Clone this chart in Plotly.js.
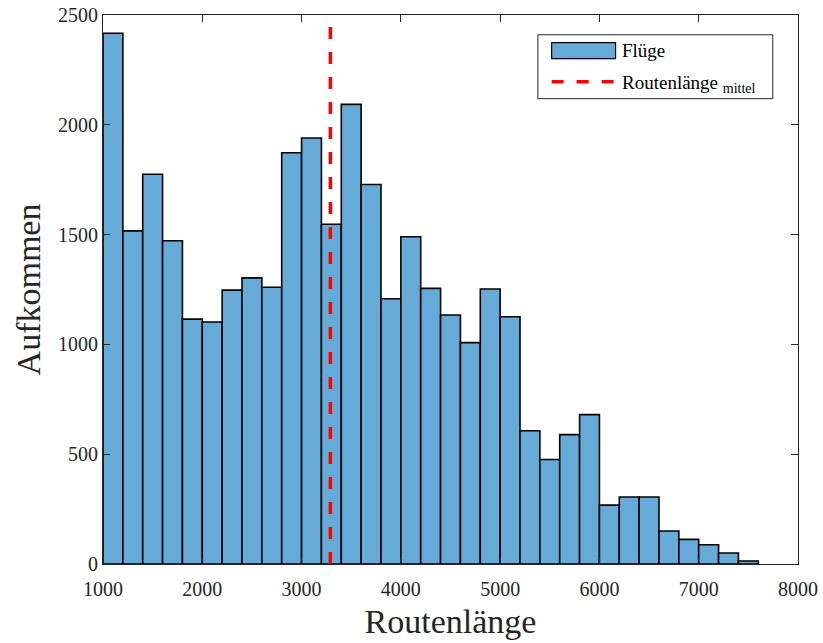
<!DOCTYPE html>
<html>
<head>
<meta charset="utf-8">
<script src="https://cdn.plot.ly/plotly-3.0.1.min.js"></script>
<style>html,body{margin:0;padding:0;background:#fff;}#chart{width:823px;height:643px;}</style>
</head>
<body>
<div id="chart"></div>
<script>
// Bin left edges (Routenlänge) and counts (Aufkommen)
const binLeft = [1000,1200,1400,1600,1800,2000,2200,2400,2600,2800,3000,3200,3400,3600,3800,4000,4200,4400,4600,4800,5000,5200,5400,5600,5800,6000,6200,6400,6600,6800,7000,7200,7400];
const counts  = [2417,1517,1775,1472,1115,1102,1247,1303,1260,1873,1940,1547,2093,1728,1208,1490,1255,1134,1008,1252,1126,607,476,589,680,268,305,305,150,112,88,50,14];
const binWidth = 200;
const meanRoute = 3290;
const meanLineY = [0, 2500];
const xTicks = [1000,2000,3000,4000,5000,6000,7000,8000];
const yTicks = [0,500,1000,1500,2000,2500];
const seriesNames = ['Flüge', 'Routenlänge<sub>mittel</sub>'];

const font = 'Liberation Serif, Times New Roman, serif';
const ink = '#262626';

const traces = [
  {
    type: 'bar',
    name: seriesNames[0],
    x: binLeft,
    y: counts,
    width: binLeft.map(() => binWidth),
    offset: 0,
    marker: {color: 'rgb(102,170,215)', line: {color: '#000', width: 1.6}},
    showlegend: false,
    hoverinfo: 'x+y'
  },
  {
    type: 'scatter',
    mode: 'lines',
    name: seriesNames[1],
    x: [meanRoute, meanRoute],
    y: meanLineY,
    line: {color: '#ff0000', width: 3.5, dash: '12px,13px'},
    showlegend: false
  }
];

// Manual legend (paper coords)
const lgX0 = 0.6257, lgX1 = 0.9637, lgY0 = 0.8476, lgY1 = 0.964;
const shapes = [
  {type:'rect', xref:'paper', yref:'paper', x0:lgX0, x1:lgX1, y0:lgY0, y1:lgY1,
   line:{color:ink, width:1}, fillcolor:'#fff', layer:'above'},
  {type:'rect', xref:'paper', yref:'paper', x0:0.6455, x1:0.7375, y0:0.9205, y1:0.9495,
   line:{color:'#000', width:1.2}, fillcolor:'rgb(102,170,215)', layer:'above'},
  {type:'line', xref:'paper', yref:'paper', x0:0.6455, x1:0.7375, y0:0.8785, y1:0.8785,
   line:{color:'#ff0000', width:3.5, dash:'12px,13px'}, layer:'above'}
];
const annotations = [
  {xref:'paper', yref:'paper', x:0.7435, y:0.935, xanchor:'left', yanchor:'middle', showarrow:false,
   text:seriesNames[0], font:{family:font, size:19, color:'#000'}},
  {xref:'paper', yref:'paper', x:0.7435, y:0.874, xanchor:'left', yanchor:'middle', showarrow:false,
   text:'Routenlänge <sub><span style="font-size:14px">mittel</span></sub>', font:{family:font, size:19, color:'#000'}}
];

const layout = {
  width: 823, height: 643, autosize: false,
  margin: {l: 103, r: 25, t: 15, b: 79, pad: 0},
  paper_bgcolor: '#fff', plot_bgcolor: '#fff',
  font: {family: font, color: ink},
  bargap: 0,
  showlegend: false,
  xaxis: {
    range: [1000, 8000], tickvals: xTicks, ticktext: xTicks.map(String),
    ticks: 'inside', ticklen: 7, tickwidth: 1, tickcolor: ink,
    showline: true, linecolor: ink, linewidth: 1, mirror: 'allticks',
    showgrid: false, zeroline: false,
    ticklabelstandoff: 7,
    tickfont: {family: font, size: 20, color: ink},
    title: {text: 'Routenlänge', font: {family: font, size: 34, color: ink}, standoff: 10}
  },
  yaxis: {
    range: [0, 2500], tickvals: yTicks, ticktext: yTicks.map(String),
    ticks: 'inside', ticklen: 7, tickwidth: 1, tickcolor: ink,
    showline: true, linecolor: ink, linewidth: 1, mirror: 'allticks',
    showgrid: false, zeroline: false,
    tickfont: {family: font, size: 20, color: ink},
    title: {text: 'Aufkommen', font: {family: font, size: 34, color: ink}, standoff: 7}
  },
  shapes: shapes,
  annotations: annotations
};

Plotly.newPlot('chart', traces, layout, {displayModeBar: false, staticPlot: true});
</script>
</body>
</html>
